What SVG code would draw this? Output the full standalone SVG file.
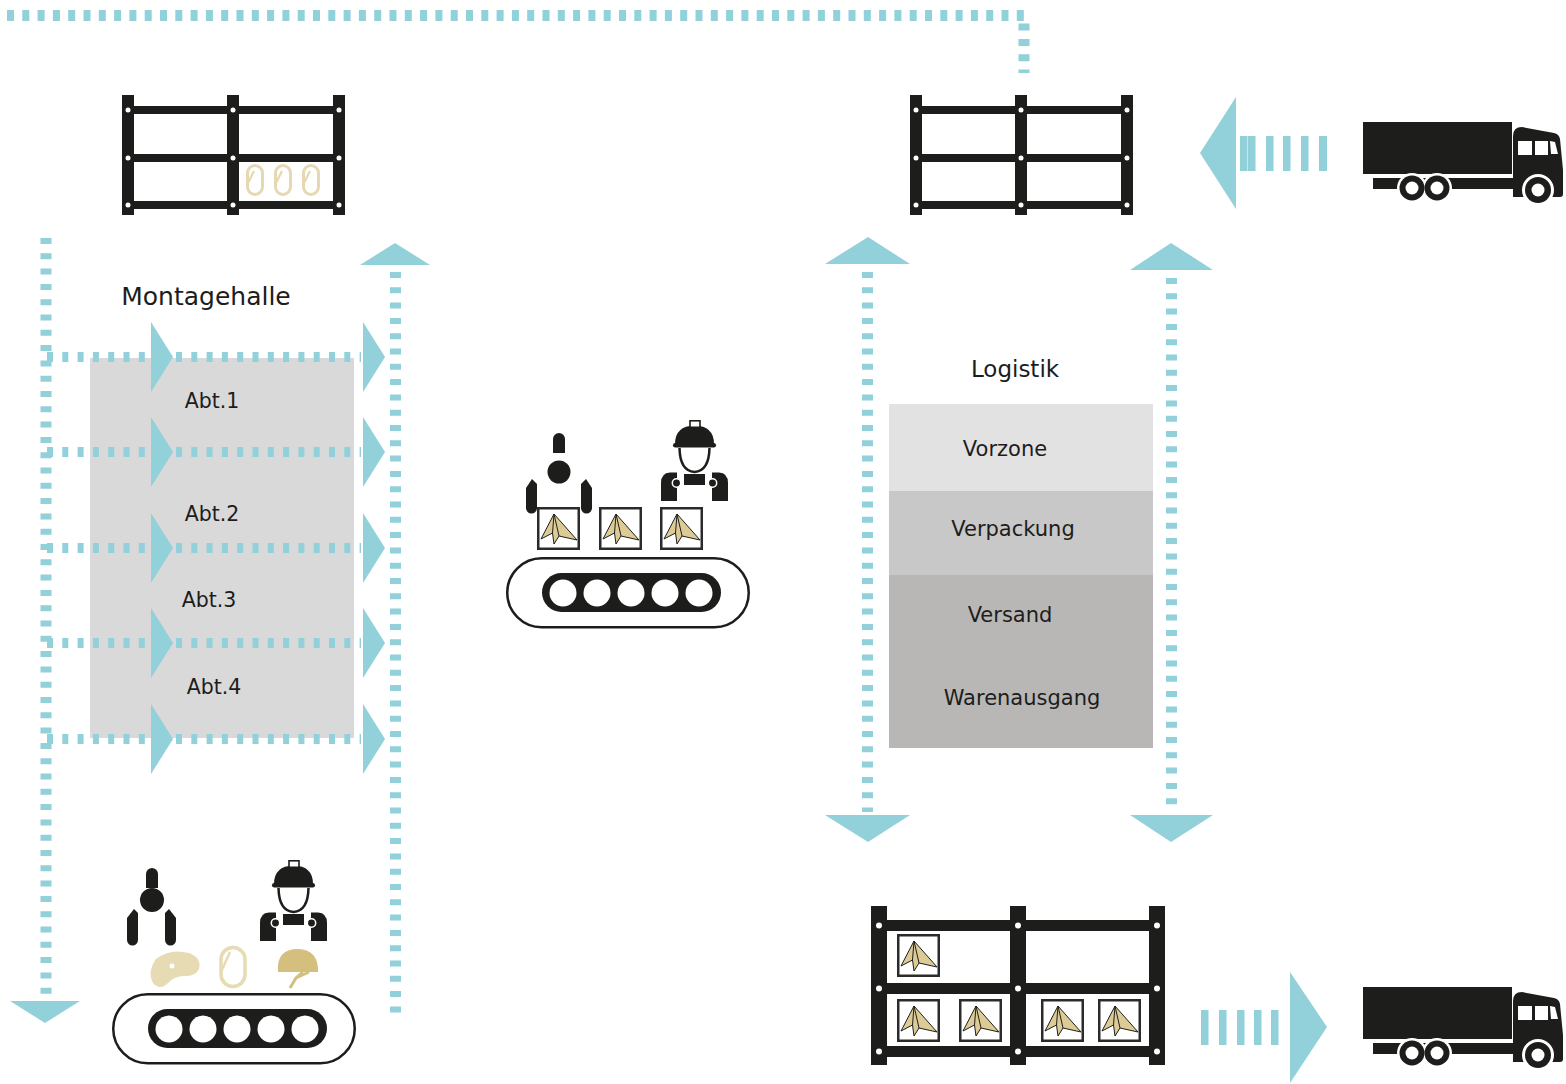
<svg xmlns="http://www.w3.org/2000/svg" xmlns:xlink="http://www.w3.org/1999/xlink" width="1566" height="1084" viewBox="0 0 1566 1084">
  <style>
    .ink { fill: #1d1d1b; }
    .flow { fill: none; stroke: #92d0da; stroke-width: 11; stroke-dasharray: 6 9.3; }
    .flowh { fill: none; stroke: #92d0da; stroke-width: 10; stroke-dasharray: 6 9.3; }
    .head { fill: #92d0da; }
    .bar { fill: #92d0da; }
    .label { font-family: "DejaVu Sans", "Liberation Sans", sans-serif; fill: #1d1d1b; text-anchor: middle; }
    .pkgbox { fill: #ffffff; stroke: #2b2b2b; stroke-width: 2.5; }
    .plane { fill: #dccb95; stroke: #1e1e1e; stroke-width: 1; stroke-linejoin: round; }
    .fold { fill: none; stroke: #1e1e1e; stroke-width: 1; }
    .dot { fill: #ffffff; }
  </style>
  <defs>
    <!-- storage rack, 223 x 120 -->
    <g id="rack">
      <rect class="ink" x="0" y="0" width="12" height="120"/>
      <rect class="ink" x="105" y="0" width="12" height="120"/>
      <rect class="ink" x="211" y="0" width="12" height="120"/>
      <rect class="ink" x="0" y="11" width="223" height="8"/>
      <rect class="ink" x="0" y="59" width="223" height="8"/>
      <rect class="ink" x="0" y="106" width="223" height="8"/>
      <g class="dot">
        <circle cx="6" cy="15" r="2.5"/><circle cx="111" cy="15" r="2.5"/><circle cx="217" cy="15" r="2.5"/>
        <circle cx="6" cy="63" r="2.5"/><circle cx="111" cy="63" r="2.5"/><circle cx="217" cy="63" r="2.5"/>
        <circle cx="6" cy="110" r="2.5"/><circle cx="111" cy="110" r="2.5"/><circle cx="217" cy="110" r="2.5"/>
      </g>
    </g>
    <!-- carabiner on the shelf -->
    <g id="clip">
      <rect x="1.5" y="1.5" width="15" height="29" rx="7.5" fill="none" stroke="#e5d8b2" stroke-width="3"/>
      <path d="M1.5,20 L8,7" fill="none" stroke="#e5d8b2" stroke-width="2.2"/>
    </g>
    <!-- parcel with paper plane, 43 x 43 -->
    <g id="pkg">
      <rect class="pkgbox" x="1.25" y="1.25" width="40.5" height="40.5"/>
      <path class="plane" d="M17,7 L40,33 L22,29 L17,37 L15.5,26 L4,32 Z"/>
      <path class="fold" d="M17,7 L22,29 M17,7 L15.5,26"/>
    </g>
    <!-- conveyor belt, 244 x 71 -->
    <g id="belt">
      <rect x="1.25" y="1.25" width="241.5" height="69" rx="34.5" fill="#ffffff" stroke="#1d1d1b" stroke-width="2.5"/>
      <rect class="ink" x="36" y="16" width="179" height="39" rx="19.5"/>
      <g class="dot">
        <circle cx="57" cy="36" r="13.5"/><circle cx="91" cy="36" r="13.5"/><circle cx="125" cy="36" r="13.5"/>
        <circle cx="159" cy="36" r="13.5"/><circle cx="193" cy="36" r="13.5"/>
      </g>
    </g>
    <!-- worker with hard hat, origin at helmet top-left -->
    <g id="worker">
      <path class="ink" d="M2,24 Q2,6 21.5,5.5 Q41,6 41,24 Z"/>
      <rect x="17" y="0.8" width="10" height="6.5" fill="#ffffff" stroke="#1d1d1b" stroke-width="1.6"/>
      <rect class="ink" x="0" y="23" width="43" height="4.5" rx="2.2"/>
      <path d="M6.5,28 Q7,51 21.5,52 Q36,51 36.5,28" fill="none" stroke="#1d1d1b" stroke-width="2.5"/>
      <rect class="ink" x="11" y="54" width="21" height="11"/>
      <path class="ink" d="M-12,81 V63 Q-12,53 -3,52.5 L4,52.5 L4,81 Z"/>
      <path class="ink" d="M55,81 V63 Q55,53 46,52.5 L39,52.5 L39,81 Z"/>
      <circle cx="3.5" cy="63" r="4.2" fill="#1d1d1b" stroke="#ffffff" stroke-width="1.5"/>
      <circle cx="39.5" cy="63" r="4.2" fill="#1d1d1b" stroke="#ffffff" stroke-width="1.5"/>
    </g>
    <!-- truck, origin at cargo top-left -->
    <g id="truck">
      <rect class="ink" x="0" y="2" width="149" height="52"/>
      <rect class="ink" x="10" y="58" width="145" height="11"/>
      <path class="ink" d="M10,58 H22 V62 Q16,62 15,69 H10 Z"/>
      <path class="ink" d="M150,60 V16 Q150,7 159,7 L191,13 Q196,14 197,19 L200,50 V74 Q200,77 197,77 H150 Z"/>
      <rect class="dot" x="155" y="21" width="14" height="14"/>
      <rect class="dot" x="172" y="21" width="13" height="14"/>
      <path class="dot" d="M187,21 L192,22 L195,34 L188,34 Z"/>
      <circle cx="49" cy="68" r="15" fill="#ffffff"/>
      <circle cx="74" cy="68" r="15" fill="#ffffff"/>
      <circle class="ink" cx="49" cy="68" r="12.5"/>
      <circle class="ink" cx="74" cy="68" r="12.5"/>
      <circle class="dot" cx="49" cy="68" r="6.5"/>
      <circle class="dot" cx="74" cy="68" r="6.5"/>
      <circle cx="175" cy="70" r="16" fill="#ffffff"/>
      <circle class="ink" cx="175" cy="70" r="13"/>
      <circle class="dot" cx="175" cy="70" r="6.5"/>
    </g>
  </defs>

  <rect x="0" y="0" width="1566" height="1084" fill="#ffffff"/>

  <!-- assembly hall area -->
  <g id="montagehalle">
    <rect x="90" y="358" width="264" height="380" fill="#d9d9d9"/>
    <text class="label" x="206" y="305" font-size="25">Montagehalle</text>
    <text class="label" x="212" y="408" font-size="20.5">Abt.1</text>
    <text class="label" x="212" y="521" font-size="20.5">Abt.2</text>
    <text class="label" x="209" y="607" font-size="20.5">Abt.3</text>
    <text class="label" x="214" y="694" font-size="20.5">Abt.4</text>
  </g>

  <!-- logistics block -->
  <g id="logistik">
    <text class="label" x="1015" y="377" font-size="23">Logistik</text>
    <rect x="889" y="404" width="264" height="87" fill="#e3e2e3"/>
    <rect x="889" y="491" width="264" height="84" fill="#c9c8c9"/>
    <rect x="889" y="575" width="264" height="173" fill="#b8b7b6"/>
    <text class="label" x="1005" y="456" font-size="21">Vorzone</text>
    <text class="label" x="1013" y="536" font-size="21">Verpackung</text>
    <text class="label" x="1010" y="622" font-size="21">Versand</text>
    <text class="label" x="1022" y="705" font-size="21">Warenausgang</text>
  </g>

  <!-- material flow connectors -->
  <g id="connectors">
    <path class="flow" d="M7,15.5 H1024 V73" style="stroke-dasharray:7 8.3"/>

    <line class="flow" x1="46" y1="238" x2="46" y2="998"/>
    <polygon class="head" points="10,1001 80,1001 45,1023"/>
    <line class="flow" x1="395.5" y1="272" x2="395.5" y2="1020"/>
    <polygon class="head" points="360,265 430,265 395,243"/>

    <g id="rows">
      <line class="flowh" x1="47" y1="357" x2="150" y2="357"/>
      <polygon class="head" points="151,322 173,357 151,392"/>
      <line class="flowh" x1="176" y1="357" x2="361" y2="357"/>
      <polygon class="head" points="363,322 385,357 363,392"/>

      <line class="flowh" x1="47" y1="452" x2="150" y2="452"/>
      <polygon class="head" points="151,417 173,452 151,487"/>
      <line class="flowh" x1="176" y1="452" x2="361" y2="452"/>
      <polygon class="head" points="363,417 385,452 363,487"/>

      <line class="flowh" x1="47" y1="548" x2="150" y2="548"/>
      <polygon class="head" points="151,513 173,548 151,583"/>
      <line class="flowh" x1="176" y1="548" x2="361" y2="548"/>
      <polygon class="head" points="363,513 385,548 363,583"/>

      <line class="flowh" x1="47" y1="643" x2="150" y2="643"/>
      <polygon class="head" points="151,608 173,643 151,678"/>
      <line class="flowh" x1="176" y1="643" x2="361" y2="643"/>
      <polygon class="head" points="363,608 385,643 363,678"/>

      <line class="flowh" x1="47" y1="739" x2="150" y2="739"/>
      <polygon class="head" points="151,704 173,739 151,774"/>
      <line class="flowh" x1="176" y1="739" x2="361" y2="739"/>
      <polygon class="head" points="363,704 385,739 363,774"/>
    </g>

    <line class="flow" x1="867.5" y1="272" x2="867.5" y2="812"/>
    <polygon class="head" points="825,264 910,264 868,237"/>
    <polygon class="head" points="825,815 910,815 868,842"/>
    <line class="flow" x1="1171.5" y1="278" x2="1171.5" y2="812"/>
    <polygon class="head" points="1130,270 1213,270 1171,243"/>
    <polygon class="head" points="1130,815 1213,815 1171,842"/>

    <!-- incoming goods -->
    <g id="inbound-arrow">
      <rect class="bar" x="1240" y="136" width="7.5" height="35"/>
      <rect class="bar" x="1248" y="136" width="7.5" height="35"/>
      <rect class="bar" x="1266" y="136" width="7.5" height="35"/>
      <rect class="bar" x="1283" y="136" width="7.5" height="35"/>
      <rect class="bar" x="1301" y="136" width="7.5" height="35"/>
      <rect class="bar" x="1319" y="136" width="8" height="35"/>
      <polygon class="head" points="1236,97 1236,209 1200,153"/>
    </g>
    <!-- outgoing goods -->
    <g id="outbound-arrow">
      <rect class="bar" x="1201" y="1010" width="7.5" height="35"/>
      <rect class="bar" x="1219" y="1010" width="7.5" height="35"/>
      <rect class="bar" x="1237" y="1010" width="7.5" height="35"/>
      <rect class="bar" x="1254" y="1010" width="7.5" height="35"/>
      <rect class="bar" x="1271" y="1010" width="7.5" height="35"/>
      <polygon class="head" points="1290,972 1327,1027 1290,1083"/>
    </g>
  </g>

  <!-- raw material rack -->
  <g id="rack-material">
    <use xlink:href="#rack" href="#rack" transform="translate(122,95)"/>
    <use xlink:href="#clip" href="#clip" transform="translate(246,164)"/>
    <use xlink:href="#clip" href="#clip" transform="translate(274,164)"/>
    <use xlink:href="#clip" href="#clip" transform="translate(302,164)"/>
  </g>

  <!-- incoming goods rack -->
  <g id="rack-inbound">
    <use xlink:href="#rack" href="#rack" transform="translate(910,95)"/>
  </g>

  <!-- finished goods rack -->
  <g id="rack-outbound">
    <rect class="ink" x="871" y="906" width="16" height="159"/>
    <rect class="ink" x="1010" y="906" width="16" height="159"/>
    <rect class="ink" x="1149" y="906" width="16" height="159"/>
    <rect class="ink" x="871" y="920" width="294" height="11"/>
    <rect class="ink" x="871" y="983" width="294" height="11"/>
    <rect class="ink" x="871" y="1046" width="294" height="11"/>
    <g class="dot">
      <circle cx="879" cy="925.5" r="3"/><circle cx="1018" cy="925.5" r="3"/><circle cx="1157" cy="925.5" r="3"/>
      <circle cx="879" cy="988.5" r="3"/><circle cx="1018" cy="988.5" r="3"/><circle cx="1157" cy="988.5" r="3"/>
      <circle cx="879" cy="1051.5" r="3"/><circle cx="1018" cy="1051.5" r="3"/><circle cx="1157" cy="1051.5" r="3"/>
    </g>
    <use xlink:href="#pkg" href="#pkg" transform="translate(897,934)"/>
    <use xlink:href="#pkg" href="#pkg" transform="translate(897,999)"/>
    <use xlink:href="#pkg" href="#pkg" transform="translate(959,999)"/>
    <use xlink:href="#pkg" href="#pkg" transform="translate(1041,999)"/>
    <use xlink:href="#pkg" href="#pkg" transform="translate(1098,999)"/>
  </g>

  <!-- trucks -->
  <g id="truck-inbound">
    <use xlink:href="#truck" href="#truck" transform="translate(1363,120)"/>
  </g>
  <g id="truck-outbound">
    <use xlink:href="#truck" href="#truck" transform="translate(1363,985)"/>
  </g>

  <!-- packing line -->
  <g id="packing-line">
    <path class="ink" d="M553,453 V439 a6,6 0 0 1 12,0 V453 Z"/>
    <circle class="ink" cx="559" cy="472" r="11.5"/>
    <path class="ink" d="M526,488 L532,479 L537,484 V508 a5.5,5.5 0 0 1 -11,0 Z"/>
    <path class="ink" d="M592,488 L586,479 L581,484 V508 a5.5,5.5 0 0 0 11,0 Z"/>
    <use xlink:href="#worker" href="#worker" transform="translate(673,420)"/>
    <use xlink:href="#pkg" href="#pkg" transform="translate(537,507)"/>
    <use xlink:href="#pkg" href="#pkg" transform="translate(599,507)"/>
    <use xlink:href="#pkg" href="#pkg" transform="translate(660,507)"/>
    <use xlink:href="#belt" href="#belt" transform="translate(506,557)"/>
  </g>

  <!-- assembly line -->
  <g id="assembly-line">
    <path class="ink" d="M146,888 V874 a6,6 0 0 1 12,0 V888 Z"/>
    <circle class="ink" cx="152" cy="900" r="12"/>
    <path class="ink" d="M127,918 L134,909 L138,913 V940 a5.5,5.5 0 0 1 -11,0 Z"/>
    <path class="ink" d="M176,918 L169,909 L165,913 V940 a5.5,5.5 0 0 0 11,0 Z"/>
    <use xlink:href="#worker" href="#worker" transform="translate(272,860)"/>
    <path d="M156,959 Q170,948 189,953 Q202,958 199,969 Q195,977 183,976 Q173,977 168,983 Q160,991 153,983 Q147,972 156,959 Z" fill="#e6dbb3"/>
    <circle class="dot" cx="172" cy="966" r="2.5"/>
    <rect x="221" y="947.5" width="24" height="39" rx="12" fill="none" stroke="#e6dbb3" stroke-width="3.5"/>
    <path d="M221,972 L230,952" fill="none" stroke="#e6dbb3" stroke-width="2.5"/>
    <path d="M278,972 Q276,949 298,949 Q319,950 318,972 Z" fill="#d4bf7e"/>
    <path d="M303,972 L296,978 L290,988 M296,978 L309,972" fill="none" stroke="#d4bf7e" stroke-width="3"/>
    <use xlink:href="#belt" href="#belt" transform="translate(112,993)"/>
  </g>
</svg>
